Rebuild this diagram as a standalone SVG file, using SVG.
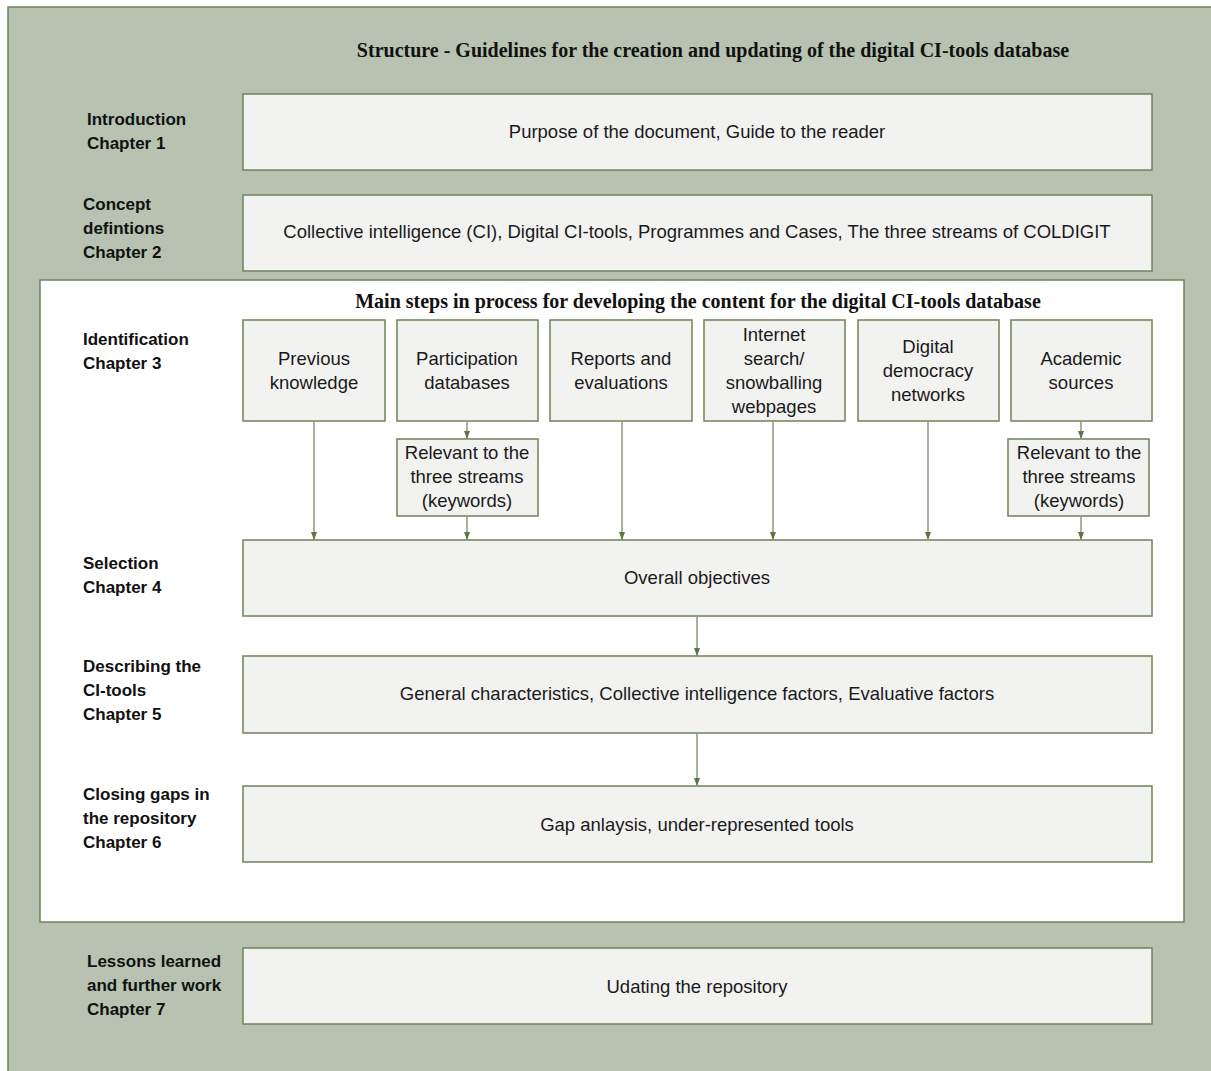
<svg xmlns="http://www.w3.org/2000/svg" width="1211" height="1071" viewBox="0 0 1211 1071">
<defs>
<marker id="ah" viewBox="0 0 8 6" refX="8" refY="3" markerWidth="8" markerHeight="6" markerUnits="userSpaceOnUse" orient="auto">
<path d="M0,0 L8,3 L0,6 z" fill="#5f7446"/>
</marker>
<style>
.box{fill:#f2f2f1;stroke:#6f8458;stroke-width:1.5}
.t{font-family:"Liberation Sans",Arial,sans-serif;font-size:18.5px;fill:#1a1a1a;text-anchor:middle}
.lab{font-family:"Liberation Sans",Arial,sans-serif;font-size:17px;fill:#111;font-weight:bold}
.ttl{font-family:"Liberation Serif","Times New Roman",serif;font-size:20px;font-weight:bold;fill:#111;text-anchor:middle}
.con{stroke:#8a9a7c;stroke-width:1.5;fill:none;marker-end:url(#ah)}
</style>
</defs>
<rect x="0" y="0" width="1211" height="1071" fill="#ffffff"/>
<rect id="background" x="8" y="7" width="1210" height="1070" fill="#b7c2b0" stroke="#6f8458" stroke-width="1.5"/>
<text class="ttl" x="713" y="57">Structure - Guidelines for the creation and updating of the digital CI-tools database</text>

<g id="label-intro"><text class="lab" x="87" y="125">Introduction</text><text class="lab" x="87" y="149">Chapter 1</text></g>
<g id="intro"><rect class="box" x="243" y="94" width="909" height="76"/><text class="t" x="697" y="138">Purpose of the document, Guide to the reader</text></g>

<g id="label-concept"><text class="lab" x="83" y="210">Concept</text><text class="lab" x="83" y="234">defintions</text><text class="lab" x="83" y="258">Chapter 2</text></g>
<g id="concept"><rect class="box" x="243" y="195" width="909" height="76"/><text class="t" x="697" y="238">Collective intelligence (CI), Digital CI-tools, Programmes and Cases, The three streams of COLDIGIT</text></g>

<g id="main-panel"><rect x="40" y="280" width="1144" height="642" fill="#ffffff" stroke="#6f8458" stroke-width="1.5"/>
<text class="ttl" x="698" y="308">Main steps in process for developing the content for the digital CI-tools database</text></g>

<g id="label-identification"><text class="lab" x="83" y="345">Identification</text><text class="lab" x="83" y="369">Chapter 3</text></g>

<g id="previous"><rect class="box" x="243" y="320" width="142" height="101"/><text class="t" x="314" y="365">Previous</text><text class="t" x="314" y="389">knowledge</text></g>
<g id="participation"><rect class="box" x="397" y="320" width="141" height="101"/><text class="t" x="467" y="365">Participation</text><text class="t" x="467" y="389">databases</text></g>
<g id="reports"><rect class="box" x="550" y="320" width="142" height="101"/><text class="t" x="621" y="365">Reports and</text><text class="t" x="621" y="389">evaluations</text></g>
<g id="internet"><rect class="box" x="704" y="320" width="141" height="101"/><text class="t" x="774" y="341">Internet</text><text class="t" x="774" y="365">search/</text><text class="t" x="774" y="389">snowballing</text><text class="t" x="774" y="413">webpages</text></g>
<g id="digital"><rect class="box" x="858" y="320" width="141" height="101"/><text class="t" x="928" y="353">Digital</text><text class="t" x="928" y="377">democracy</text><text class="t" x="928" y="401">networks</text></g>
<g id="academic"><rect class="box" x="1011" y="320" width="141" height="101"/><text class="t" x="1081" y="365">Academic</text><text class="t" x="1081" y="389">sources</text></g>

<g id="relevant-1"><rect class="box" x="397" y="439" width="141" height="77"/><text class="t" x="467" y="459">Relevant to the</text><text class="t" x="467" y="483">three streams</text><text class="t" x="467" y="507">(keywords)</text></g>
<g id="relevant-2"><rect class="box" x="1008" y="439" width="141" height="77"/><text class="t" x="1079" y="459">Relevant to the</text><text class="t" x="1079" y="483">three streams</text><text class="t" x="1079" y="507">(keywords)</text></g>

<g id="label-selection"><text class="lab" x="83" y="569">Selection</text><text class="lab" x="83" y="593">Chapter 4</text></g>
<g id="objectives"><rect class="box" x="243" y="540" width="909" height="76"/><text class="t" x="697" y="584">Overall objectives</text></g>

<g id="label-describing"><text class="lab" x="83" y="672">Describing the</text><text class="lab" x="83" y="696">CI-tools</text><text class="lab" x="83" y="720">Chapter 5</text></g>
<g id="describing"><rect class="box" x="243" y="656" width="909" height="77"/><text class="t" x="697" y="700">General characteristics, Collective intelligence factors, Evaluative factors</text></g>

<g id="label-closing"><text class="lab" x="83" y="800">Closing gaps in</text><text class="lab" x="83" y="824">the repository</text><text class="lab" x="83" y="848">Chapter 6</text></g>
<g id="gap"><rect class="box" x="243" y="786" width="909" height="76"/><text class="t" x="697" y="831">Gap anlaysis, under-represented tools</text></g>

<g id="label-lessons"><text class="lab" x="87" y="967">Lessons learned</text><text class="lab" x="87" y="991">and further work</text><text class="lab" x="87" y="1015">Chapter 7</text></g>
<g id="lessons"><rect class="box" x="243" y="948" width="909" height="76"/><text class="t" x="697" y="993">Udating the repository</text></g>

<g id="connectors">
<line class="con" x1="314" y1="421" x2="314" y2="540"/>
<line class="con" x1="467" y1="421" x2="467" y2="439"/>
<line class="con" x1="467" y1="516" x2="467" y2="540"/>
<line class="con" x1="622" y1="421" x2="622" y2="540"/>
<line class="con" x1="773" y1="421" x2="773" y2="540"/>
<line class="con" x1="928" y1="421" x2="928" y2="540"/>
<line class="con" x1="1081" y1="421" x2="1081" y2="439"/>
<line class="con" x1="1081" y1="516" x2="1081" y2="540"/>
<line class="con" x1="697" y1="616" x2="697" y2="656"/>
<line class="con" x1="697" y1="733" x2="697" y2="786"/>
</g>
</svg>
